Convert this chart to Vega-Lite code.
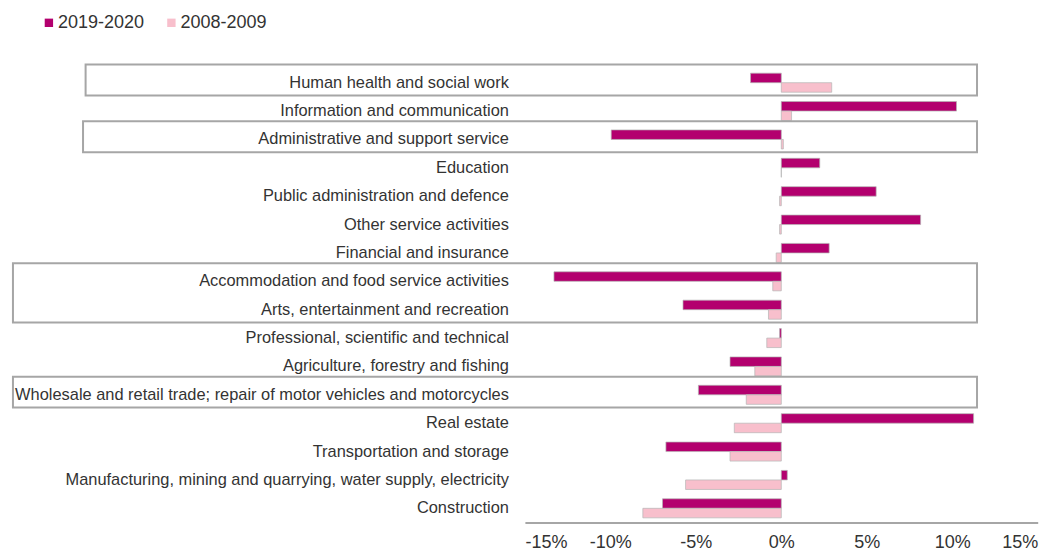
{
  "$schema": "https://vega.github.io/schema/vega-lite/v6.json",
  "width": 512.8,
  "height": 454,
  "autosize": {"type": "none"},
  "padding": {"left": 524.9, "top": 68.5, "right": 19.3, "bottom": 28.5},
  "background": "white",
  "config": {"view": {"stroke": null}, "font": "Liberation Sans"},
  "datasets": {
    "bars": [
      {"category": "Human health and social work", "period": "2019-2020", "value": -1.8},
      {"category": "Human health and social work", "period": "2008-2009", "value": 2.95},
      {"category": "Information and communication", "period": "2019-2020", "value": 10.25},
      {"category": "Information and communication", "period": "2008-2009", "value": 0.6},
      {"category": "Administrative and support service\u00a0", "period": "2019-2020", "value": -9.95},
      {"category": "Administrative and support service\u00a0", "period": "2008-2009", "value": 0.12},
      {"category": "Education", "period": "2019-2020", "value": 2.25},
      {"category": "Education", "period": "2008-2009", "value": 0.0},
      {"category": "Public administration and defence", "period": "2019-2020", "value": 5.55},
      {"category": "Public administration and defence", "period": "2008-2009", "value": -0.1},
      {"category": "Other service activities", "period": "2019-2020", "value": 8.15},
      {"category": "Other service activities", "period": "2008-2009", "value": -0.1},
      {"category": "Financial and insurance", "period": "2019-2020", "value": 2.8},
      {"category": "Financial and insurance", "period": "2008-2009", "value": -0.3},
      {"category": "Accommodation and food service activities", "period": "2019-2020", "value": -13.3},
      {"category": "Accommodation and food service activities", "period": "2008-2009", "value": -0.5},
      {"category": "Arts, entertainment and recreation", "period": "2019-2020", "value": -5.75},
      {"category": "Arts, entertainment and recreation", "period": "2008-2009", "value": -0.75},
      {"category": "Professional, scientific and technical", "period": "2019-2020", "value": -0.1},
      {"category": "Professional, scientific and technical", "period": "2008-2009", "value": -0.85},
      {"category": "Agriculture, forestry and fishing", "period": "2019-2020", "value": -3.0},
      {"category": "Agriculture, forestry and fishing", "period": "2008-2009", "value": -1.55},
      {"category": "Wholesale and retail trade; repair of motor vehicles and motorcycles", "period": "2019-2020", "value": -4.85},
      {"category": "Wholesale and retail trade; repair of motor vehicles and motorcycles", "period": "2008-2009", "value": -2.05},
      {"category": "Real estate\u00a0", "period": "2019-2020", "value": 11.25},
      {"category": "Real estate\u00a0", "period": "2008-2009", "value": -2.75},
      {"category": "Transportation and storage", "period": "2019-2020", "value": -6.75},
      {"category": "Transportation and storage", "period": "2008-2009", "value": -3.0},
      {"category": "Manufacturing, mining and quarrying, water supply, electricity", "period": "2019-2020", "value": 0.35},
      {"category": "Manufacturing, mining and quarrying, water supply, electricity", "period": "2008-2009", "value": -5.6},
      {"category": "Construction", "period": "2019-2020", "value": -6.95},
      {"category": "Construction", "period": "2008-2009", "value": -8.1}
    ],
    "boxes": [
      {"top": "Human health and social work", "bottom": "Human health and social work", "left": -40.7, "right": 11.45},
      {"top": "Administrative and support service\u00a0", "bottom": "Administrative and support service\u00a0", "left": -40.85, "right": 11.45},
      {"top": "Accommodation and food service activities", "bottom": "Arts, entertainment and recreation", "left": -44.95, "right": 11.45},
      {"top": "Wholesale and retail trade; repair of motor vehicles and motorcycles", "bottom": "Wholesale and retail trade; repair of motor vehicles and motorcycles", "left": -44.95, "right": 11.45}
    ]
  },
  "layer": [
    {
      "data": {"name": "bars"},
      "mark": {"type": "bar", "stroke": "#b5b5b5", "strokeWidth": 0.7},
      "encoding": {
        "y": {
          "field": "category", "type": "nominal",
          "scale": {"domain": ["Human health and social work", "Information and communication", "Administrative and support service\u00a0", "Education", "Public administration and defence", "Other service activities", "Financial and insurance", "Accommodation and food service activities", "Arts, entertainment and recreation", "Professional, scientific and technical", "Agriculture, forestry and fishing", "Wholesale and retail trade; repair of motor vehicles and motorcycles", "Real estate\u00a0", "Transportation and storage", "Manufacturing, mining and quarrying, water supply, electricity", "Construction"], "paddingInner": 0, "paddingOuter": 0},
          "axis": {"title": null, "ticks": false, "domain": false, "grid": false, "labelPadding": 16.5, "labelFontSize": 16.4, "labelColor": "#333333", "labelLimit": 700, "labelFont": "Liberation Sans"}
        },
        "yOffset": {
          "field": "period", "type": "nominal",
          "sort": ["2019-2020", "2008-2009"],
          "scale": {"paddingInner": 0, "paddingOuter": 0.49}
        },
        "x": {
          "field": "value", "type": "quantitative",
          "scale": {"domain": [-15, 15], "nice": false, "zero": true},
          "axis": {"title": null, "values": [-15, -10, -5, 0, 5, 10, 15], "labelExpr": "datum.value + '%'", "ticks": false, "tickSize": 0, "grid": false, "domainColor": "#a6a6a6", "domainWidth": 2, "labelPadding": 10.5, "labelFontSize": 18, "labelColor": "#333333", "labelFont": "Liberation Sans"}
        },
        "color": {
          "field": "period", "type": "nominal",
          "scale": {"domain": ["2019-2020", "2008-2009"], "range": ["#b3006e", "#f8bfcc"]},
          "legend": {"orient": "none", "legendX": -485, "legendY": -54.7, "direction": "horizontal", "title": null, "symbolType": "square", "symbolSize": 70, "symbolStrokeWidth": 0, "labelFontSize": 18, "labelOffset": 0, "columnPadding": 17.5, "padding": 0, "labelColor": "#333333", "labelFont": "Liberation Sans"}
        }
      }
    },
    {
      "mark": {"type": "rule", "color": "#a6a6a6", "strokeWidth": 2},
      "encoding": {"x": {"datum": 0}}
    },
    {
      "data": {"name": "boxes"},
      "mark": {"type": "rect", "filled": false, "stroke": "#a6a6a6", "strokeWidth": 2},
      "encoding": {
        "y": {"field": "top", "type": "nominal", "bandPosition": -0.14},
        "y2": {"field": "bottom", "bandPosition": 0.95},
        "x": {"field": "left", "type": "quantitative"},
        "x2": {"field": "right"}
      }
    }
  ]
}
